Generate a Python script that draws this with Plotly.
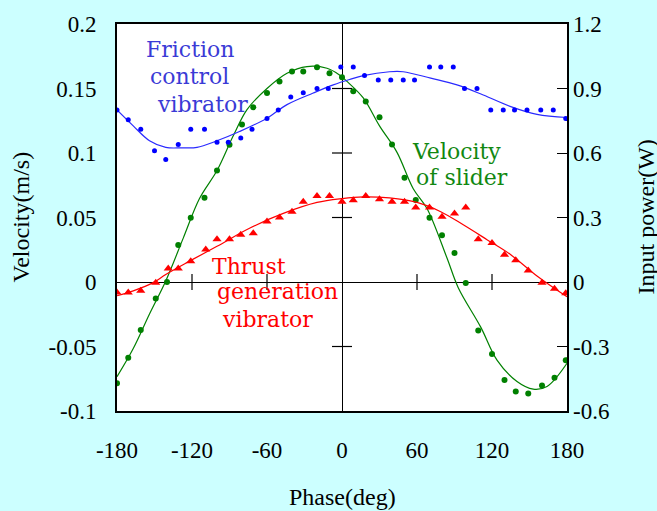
import plotly.graph_objects as go

# ---------------- data ----------------
# Friction control vibrator (input power, W, right axis)
fric_phase = [-180, -171, -161, -150, -141, -131, -121, -110, -100, -91, -81, -72, -60, -51, -41, -31,
              -20, -11, -1, 9, 18, 29, 39, 49, 58, 70, 79, 89, 98, 108, 119, 129, 138, 148, 159, 169, 179]
fric_power = [0.80, 0.755, 0.71, 0.61, 0.57, 0.64, 0.71, 0.71, 0.65, 0.65, 0.67, 0.71, 0.76, 0.80, 0.86, 0.88,
              0.90, 0.90, 1.00, 1.00, 0.96, 0.94, 0.94, 0.94, 0.94, 1.00, 1.00, 1.00, 0.90, 0.90, 0.80, 0.80,
              0.80, 0.80, 0.80, 0.80, 0.76]
fric_fit_phase = [-180, -167, -154, -141, -128, -116, -100, -82, -60, -44, -23, -7, 6, 17, 38, 49, 71, 92,
                  113, 135, 156, 180]
fric_fit_power = [0.80, 0.726, 0.657, 0.626, 0.624, 0.626, 0.657, 0.70, 0.762, 0.825, 0.879, 0.917, 0.942,
                  0.96, 0.978, 0.978, 0.948, 0.917, 0.87, 0.816, 0.78, 0.765]

# Thrust generation vibrator (input power, W, right axis)
thrust_phase = [-180, -171, -161, -149, -139, -131, -121, -109, -100, -90, -81, -71, -60, -50, -40, -31,
                -20, -10, 0, 9, 19, 30, 40, 50, 59, 70, 80, 90, 99, 109, 120, 130, 139, 149, 160, 170, 179]
thrust_power = [-0.049, -0.049, -0.041, -0.003, 0.063, 0.063, 0.097, 0.151, 0.199, 0.199, 0.22, 0.227,
                0.281, 0.30, 0.327, 0.373, 0.40, 0.40, 0.373, 0.38, 0.40, 0.385, 0.373, 0.373, 0.347, 0.347,
                0.304, 0.319, 0.347, 0.199, 0.181, 0.127, 0.101, 0.054, -0.003, -0.031, -0.052]
thrust_fit_phase = [-180, -167, -151, -141, -122, -100, -74, -47, -20, 0, 17, 38, 60, 79, 97, 116, 135, 156, 180]
thrust_fit_power = [-0.064, -0.041, -0.003, 0.035, 0.097, 0.166, 0.25, 0.319, 0.37, 0.388, 0.396, 0.391,
                    0.37, 0.327, 0.266, 0.197, 0.127, 0.028, -0.069]

# Velocity of slider (m/s, left axis)
slider_phase = [-180, -171, -161, -149, -140, -131, -121, -110, -100, -90, -80, -71, -60, -50, -40, -31,
                -20, -10, 0, 9, 19, 30, 40, 50, 59, 70, 80, 90, 99, 109, 120, 130, 139, 149, 160, 170, 179]
slider_vel = [-0.0785, -0.0588, -0.0373, -0.0128, 0.0, 0.0286, 0.0499, 0.0654, 0.0864, 0.1064, 0.122, 0.1355,
              0.1465, 0.1555, 0.1631, 0.1631, 0.1664, 0.1618, 0.1588, 0.1478, 0.140, 0.1278, 0.1066, 0.0808,
              0.0636, 0.0499, 0.0363, 0.0225, -0.0008, -0.0376, -0.0558, -0.0759, -0.0849, -0.0864, -0.0803,
              -0.0742, -0.0606]
slider_fit_phase = [-180, -167, -154, -141, -127, -114, -100, -87, -76, -60, -44, -28, -12, -2, 4, 17, 30,
                    44, 57, 68, 84, 93, 111, 124, 140, 153, 164, 180]
slider_fit_vel = [-0.0734, -0.0516, -0.0248, 0.0008, 0.034, 0.0647, 0.0864, 0.1133, 0.1337, 0.150, 0.1618,
                  0.167, 0.1657, 0.1605, 0.1555, 0.1427, 0.121, 0.1005, 0.0723, 0.057, 0.0186, -0.0044,
                  -0.035, -0.0606, -0.0772, -0.0831, -0.081, -0.0630]

x_ticks = [-180, -120, -60, 0, 60, 120, 180]
x_ticktext = ["-180", "-120", "-60", "0", "60", "120", "180"]
y_ticks = [-0.1, -0.05, 0, 0.05, 0.1, 0.15, 0.2]
y_ticktext = ["-0.1", "-0.05", "0", "0.05", "0.1", "0.15", "0.2"]
y2_ticks = [-0.6, -0.3, 0, 0.3, 0.6, 0.9, 1.2]
y2_ticktext = ["-0.6", "-0.3", "0", "0.3", "0.6", "0.9", "1.2"]

# ---------------- styling ----------------
BG = "#ccffff"
BLUE = "#0000ff"
GREEN = "#008000"
RED = "#ff0000"
TICKFONT = dict(family="Liberation Serif", size=23, color="black")
TITLEFONT = dict(family="Liberation Serif", size=24, color="black")
LABELFONT = "DejaVu Serif"

fig = go.Figure()

fig.add_trace(go.Scatter(x=fric_fit_phase, y=fric_fit_power, yaxis="y2", mode="lines",
                         line=dict(color="#2a2aff", width=1.2, shape="spline"), showlegend=False))
fig.add_trace(go.Scatter(x=fric_phase, y=fric_power, yaxis="y2", mode="markers",
                         marker=dict(color=BLUE, size=5, symbol="circle"), showlegend=False))
fig.add_trace(go.Scatter(x=thrust_fit_phase, y=thrust_fit_power, yaxis="y2", mode="lines",
                         line=dict(color=RED, width=1.2, shape="spline"), showlegend=False))
fig.add_trace(go.Scatter(x=thrust_phase, y=thrust_power, yaxis="y2", mode="markers",
                         marker=dict(color=RED, size=8, symbol="triangle-up"), showlegend=False))
fig.add_trace(go.Scatter(x=slider_fit_phase, y=slider_fit_vel, mode="lines",
                         line=dict(color=GREEN, width=1.2, shape="spline"), showlegend=False))
fig.add_trace(go.Scatter(x=slider_phase, y=slider_vel, mode="markers",
                         marker=dict(color=GREEN, size=6, symbol="circle"), showlegend=False))

# crosshair tick marks along the zero lines
shapes = []
for xv in x_ticks:
    if xv in (-180, 0, 180):
        continue
    shapes.append(dict(type="line", xref="x", yref="y", ysizemode="pixel", yanchor=0,
                       x0=xv, x1=xv, y0=-8, y1=8, line=dict(color="black", width=1.2)))
for yv in y_ticks:
    if yv in (-0.1, 0, 0.2):
        continue
    shapes.append(dict(type="line", xref="x", yref="y", xsizemode="pixel", xanchor=0,
                       x0=-10, x1=10, y0=yv, y1=yv, line=dict(color="black", width=1.2)))

annotations = []
def label(text, x, y, color):
    annotations.append(dict(text=text, x=x, y=y, xref="x", yref="y", showarrow=False,
                            xanchor="center", yanchor="middle",
                            font=dict(family=LABELFONT, size=22, color=color)))

label("Friction", -121.9, 0.1802, "#3a3ad6")
label("control", -121.9, 0.1593, "#3a3ad6")
label("vibrator", -111.5, 0.1373, "#3a3ad6")
label("Velocity", 91.4, 0.1015, "#118811")
label("of slider", 96.2, 0.081, "#118811")
label("Thrust", -74.2, 0.012, RED)
label("generation", -51.7, -0.0075, RED)
label("vibrator", -59.7, -0.029, RED)

annotations.append(dict(text="Phase(deg)", x=0.5, y=0, xref="paper", yref="paper", yshift=-86,
                        showarrow=False, xanchor="center", yanchor="middle", font=TITLEFONT))
annotations.append(dict(text="Velocity(m/s)", x=0, y=0.5, xref="paper", yref="paper", xshift=-97,
                        textangle=-90, showarrow=False, xanchor="center", yanchor="middle", font=TITLEFONT))
annotations.append(dict(text="Input power(W)", x=1, y=0.5, xref="paper", yref="paper", xshift=78,
                        textangle=-90, showarrow=False, xanchor="center", yanchor="middle", font=TITLEFONT))

fig.update_layout(
    width=657, height=511,
    margin=dict(l=117, r=90, t=20, b=100),
    paper_bgcolor=BG, plot_bgcolor="white",
    xaxis=dict(range=[-180, 180], tickvals=x_ticks, ticktext=x_ticktext, tickfont=TICKFONT,
               showgrid=False, zeroline=True, zerolinecolor="black", zerolinewidth=1.2,
               showline=True, linecolor="black", linewidth=2, mirror=True, ticks="",
               ticklabelstandoff=17),
    yaxis=dict(range=[-0.1, 0.2], tickvals=y_ticks, ticktext=y_ticktext, tickfont=TICKFONT,
               showgrid=False, zeroline=True, zerolinecolor="black", zerolinewidth=1.2,
               showline=True, linecolor="black", linewidth=2, mirror=True, ticks="",
               ticklabelstandoff=14),
    yaxis2=dict(range=[-0.6, 1.2], tickvals=y2_ticks, ticktext=y2_ticktext, tickfont=TICKFONT,
                overlaying="y", side="right", showgrid=False, zeroline=False,
                ticks="inside", ticklen=10, tickcolor="black", tickwidth=1.2,
                ticklabelstandoff=5),
    shapes=shapes, annotations=annotations,
)

fig.write_html("out.html", config={"displayModeBar": False},
               post_script="document.body.style.margin='0px';document.body.style.padding='0px';")
